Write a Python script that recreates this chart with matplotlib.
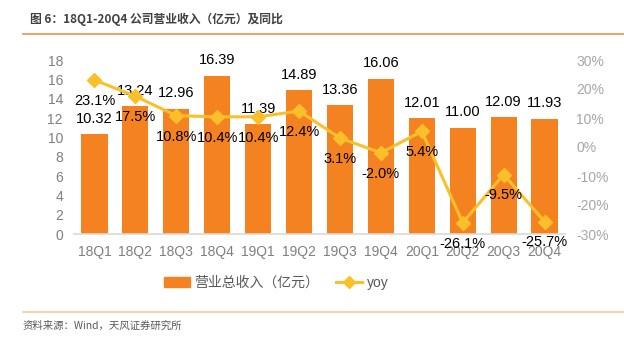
import numpy as np
import matplotlib.pyplot as plt
from matplotlib.lines import Line2D

plt.rcParams['font.family'] = ['Liberation Sans', 'Noto Sans CJK SC', 'DejaVu Sans']

quarters = ["18Q1", "18Q2", "18Q3", "18Q4", "19Q1", "19Q2",
            "19Q3", "19Q4", "20Q1", "20Q2", "20Q3", "20Q4"]
revenue = [10.32, 13.24, 12.96, 16.39, 11.39, 14.89,
           13.36, 16.06, 12.01, 11.00, 12.09, 11.93]
yoy = [23.1, 17.5, 10.8, 10.4, 10.4, 12.4, 3.1, -2.0, 5.4, -26.1, -9.5, -25.7]

BAR_C = "#F58220"
LINE_C = "#FBBF2A"
TICK_C = "#7F7F7F"

fig = plt.figure(figsize=(6.24, 3.42), dpi=100)
ax = fig.add_axes([74 / 624, 1 - 234 / 342, 491 / 624, 174 / 342])
x = np.arange(len(quarters))
ax.bar(x, revenue, width=0.64, color=BAR_C, zorder=2)
ax.set_xlim(-0.5, len(quarters) - 0.5)
ax.set_ylim(0, 18)
ax.set_yticks(range(0, 19, 2))
ax.set_xticks(x)
ax.set_xticklabels(quarters)
ax.tick_params(axis="both", length=0, labelsize=10, colors=TICK_C, pad=8)
for s in ["top", "right", "left"]:
    ax.spines[s].set_visible(False)
ax.spines["bottom"].set_color("#D9D9D9")
ax.spines["bottom"].set_linewidth(1.2)

for xi, v in zip(x, revenue):
    ax.annotate(f"{v:.2f}", (xi, v), xytext=(0, 11), textcoords="offset points",
                ha="center", va="center", fontsize=10.5, color="black", zorder=5)

ax2 = ax.twinx()
ax2.set_ylim(-30, 30)
ax2.set_yticks(range(-30, 31, 10))
ax2.set_yticklabels([f"{t}%" for t in range(-30, 31, 10)])
ax2.tick_params(axis="y", length=0, labelsize=10, colors="#A6A6A6", pad=8)
for s in ax2.spines.values():
    s.set_visible(False)
ax2.plot(x, yoy, color=LINE_C, lw=2.2, marker="D", markersize=7, zorder=3)
for xi, v in zip(x, yoy):
    ax2.annotate(f"{v:.1f}%", (xi, v), xytext=(0, -15), textcoords="offset points",
                 ha="center", va="center", fontsize=10.5, color="black", zorder=5)

# legend below the plot
handles = [plt.Rectangle((0, 0), 1, 1, color=BAR_C),
           Line2D([], [], color=LINE_C, lw=2.2, marker="D", markersize=6)]
fig.legend(handles, ["营业总收入（亿元）", "yoy"], loc="center",
           bbox_to_anchor=(276 / 624, 1 - 283 / 342), ncol=2, frameon=False,
           fontsize=10, handlelength=1.9, columnspacing=1.2, labelcolor="#595959",
           handletextpad=0.3)

fig.text(30 / 624, 1 - 19 / 342, "图 6：18Q1-20Q4 公司营业收入（亿元）及同比",
         fontsize=8.5, fontweight="bold", color="#404040", va="center",
         family=["Noto Sans CJK SC", "DejaVu Sans"])
fig.add_artist(Line2D([23 / 624, 1], [1 - 34 / 342] * 2, color="#E8934A", lw=1.2))
fig.add_artist(Line2D([23 / 624, 1], [1 - 312 / 342] * 2, color="#F8C9A3", lw=1.2))
fig.text(23 / 624, 1 - 326 / 342, "资料来源：Wind，天风证券研究所",
         fontsize=7.5, color="#595959", va="center",
         family=["Noto Sans CJK SC", "DejaVu Sans"])

fig.savefig("out.png", dpi=100)
